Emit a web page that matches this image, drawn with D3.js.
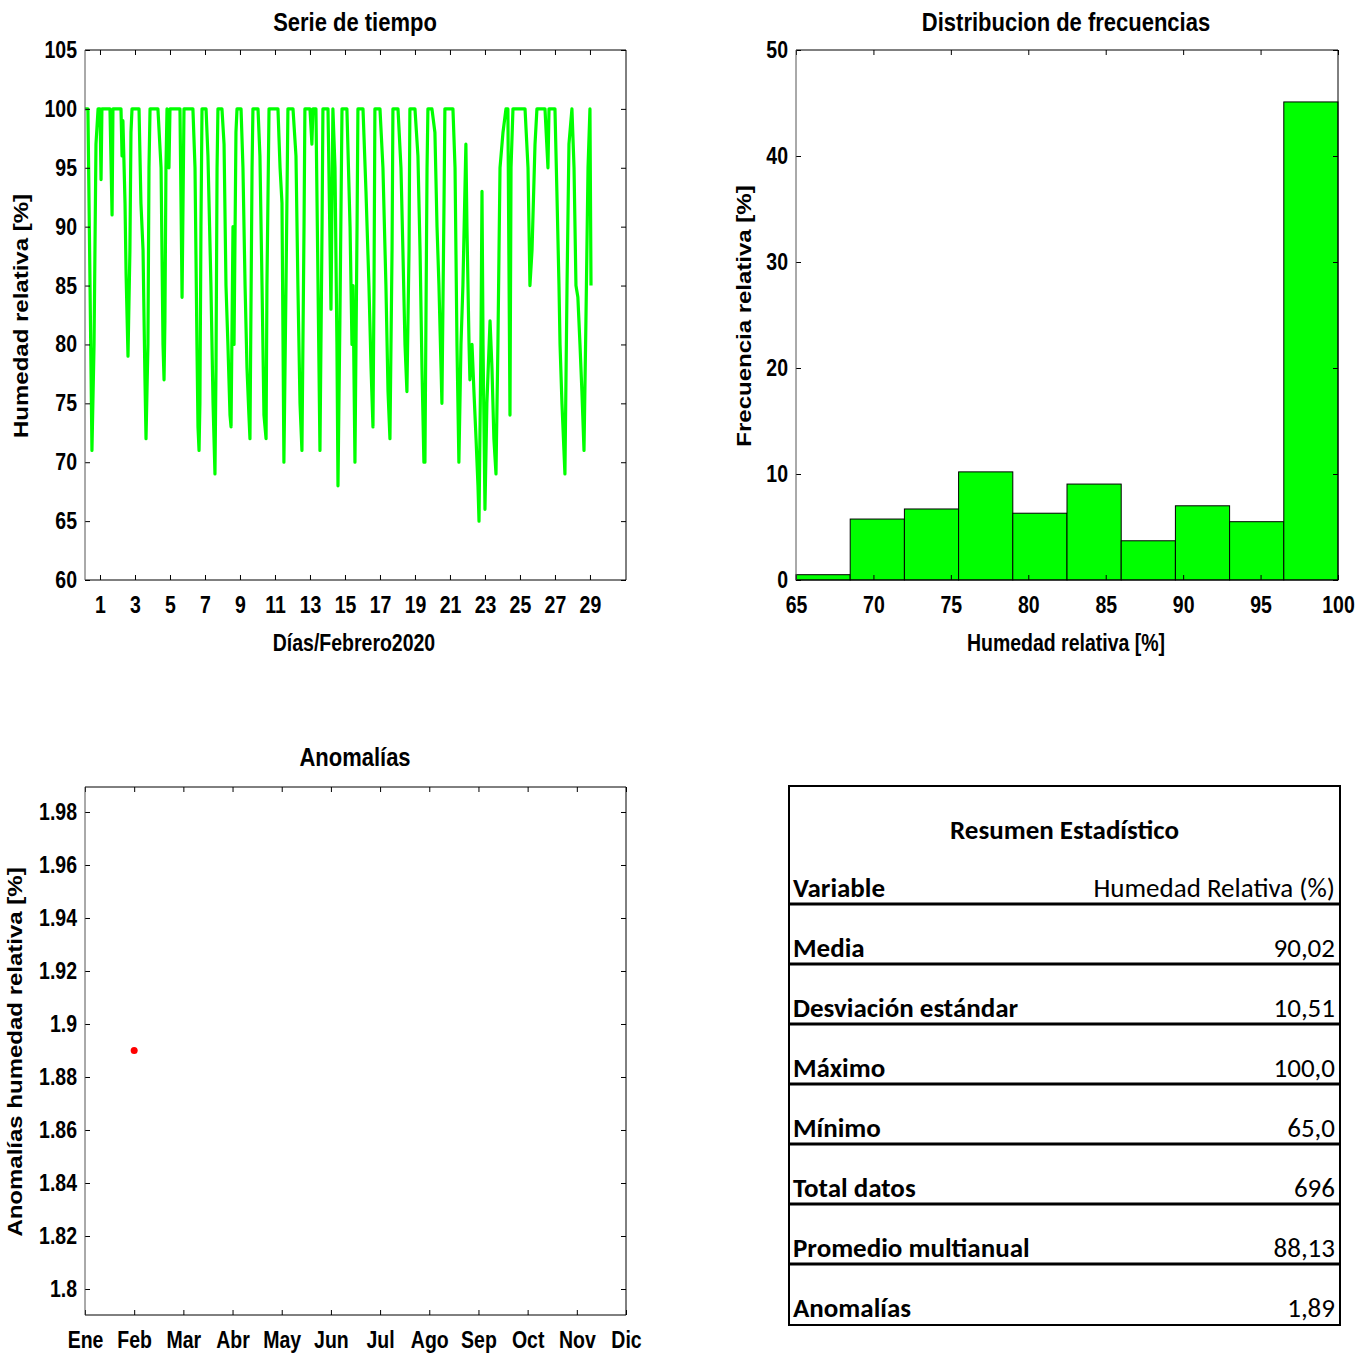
<!DOCTYPE html>
<html>
<head>
<meta charset="utf-8">
<script src="https://cdn.jsdelivr.net/npm/d3@7"></script>
<style>
  html, body { margin: 0; padding: 0; background: #fff; }
  svg { display: block; }
  .tick text { font-family: "Liberation Sans", Arial, sans-serif; font-weight: bold; font-size: 19.5px; fill: #000; }
  .lbl { font-family: "Liberation Sans", Arial, sans-serif; font-weight: bold; }
  .tbl { font-family: Carlito, Lato, sans-serif; font-size: 27px; }
</style>
</head>
<body>
<svg id="chart" width="1370" height="1355"></svg>
<script>
// ── datos ──────────────────────────────────────────────────────────────────────
// serie horaria (vértices): [día de febrero, humedad %]
const humSeries = [
  [0.14,100],[0.31,100],[0.43,85],[0.54,71],[0.66,80],[0.77,97],[0.89,100],[1.00,100],
  [1.06,94],[1.11,100],[1.57,100],[1.69,91],[1.74,100],[2.20,100],[2.26,96],[2.31,99],
  [2.43,92],[2.49,86],[2.60,79],[2.71,88],[2.77,98],[2.83,100],[3.23,100],[3.34,92],
  [3.46,88],[3.57,77],[3.63,72],[3.74,80],[3.80,95],[3.86,100],[4.31,100],[4.49,95],
  [4.60,80],[4.66,77],[4.71,82],[4.77,95],[4.83,100],[4.94,95],[5.00,100],[5.57,100],
  [5.69,84],[5.80,100],[6.31,100],[6.43,95],[6.54,80],[6.60,73],[6.66,71],[6.71,75],
  [6.77,90],[6.83,100],[7.06,100],[7.17,96],[7.34,85],[7.46,75],[7.57,69],[7.63,78],
  [7.69,95],[7.74,100],[7.97,100],[8.09,97],[8.20,85],[8.31,80],[8.43,74],[8.49,73],
  [8.60,90],[8.66,80],[8.77,98],[8.83,100],[9.06,100],[9.17,95],[9.29,85],[9.40,78],
  [9.51,74],[9.57,72],[9.69,95],[9.74,100],[10.03,100],[10.14,96],[10.26,85],[10.37,74],
  [10.49,72],[10.54,85],[10.66,100],[11.17,100],[11.29,95],[11.40,92],[11.46,80],
  [11.51,70],[11.63,85],[11.74,100],[12.03,100],[12.20,96],[12.31,85],[12.43,75],
  [12.54,71],[12.66,90],[12.71,100],[13.00,100],[13.11,97],[13.17,100],[13.34,100],
  [13.46,85],[13.57,71],[13.69,90],[13.74,100],[14.03,100],[14.20,83],[14.31,100],
  [14.43,95],[14.54,80],[14.60,68],[14.71,82],[14.83,100],[15.11,100],[15.29,90],
  [15.40,80],[15.46,85],[15.57,70],[15.69,90],[15.74,100],[16.03,100],[16.20,93],
  [16.37,85],[16.49,78],[16.60,73],[16.66,85],[16.71,100],[17.00,100],[17.17,95],
  [17.34,85],[17.46,76],[17.57,72],[17.69,88],[17.74,100],[18.03,100],[18.20,95],
  [18.31,88],[18.43,80],[18.54,76],[18.66,88],[18.71,100],[19.00,100],[19.17,96],
  [19.29,88],[19.40,78],[19.51,70],[19.57,70],[19.69,95],[19.74,100],[19.97,100],
  [20.14,98],[20.26,90],[20.37,85],[20.49,78],[20.54,75],[20.66,92],[20.71,100],
  [21.17,100],[21.29,95],[21.40,80],[21.51,70],[21.63,80],[21.74,85],[21.91,97],
  [21.97,90],[22.09,80],[22.14,77],[22.26,80],[22.37,76],[22.49,72],[22.60,68],
  [22.66,65],[22.77,80],[22.83,93],[22.89,80],[23.00,66],[23.11,75],[23.29,82],
  [23.40,78],[23.51,72],[23.63,69],[23.74,80],[23.86,95],[24.03,98],[24.20,100],
  [24.31,100],[24.43,74],[24.49,95],[24.60,100],[25.29,100],[25.46,95],[25.57,85],
  [25.69,88],[25.86,97],[25.97,100],[26.43,100],[26.60,95],[26.66,100],[27.00,100],
  [27.11,93],[27.23,85],[27.29,80],[27.40,75],[27.57,69],[27.69,85],[27.80,97],
  [27.97,100],[28.09,95],[28.20,85],[28.31,84],[28.43,80],[28.54,76],[28.66,71],
  [28.77,82],[28.89,95],[29.00,100],[29.06,85]
];
const dayTicks = [1, 3, 5, 7, 9, 11, 13, 15, 17, 19, 21, 23, 25, 27, 29];
const humTicks = [60, 65, 70, 75, 80, 85, 90, 95, 100, 105];

// histograma: bordes de clase y frecuencia relativa (%)
const binEdges = [65, 68.5, 72, 75.5, 79, 82.5, 86, 89.5, 93, 96.5, 100];
const binFreq  = [0.5, 5.75, 6.7, 10.2, 6.3, 9.05, 3.7, 7.0, 5.5, 45.1];
const histXTicks = [65, 70, 75, 80, 85, 90, 95, 100];
const histYTicks = [0, 10, 20, 30, 40, 50];

// anomalías mensuales
const months = ['Ene','Feb','Mar','Abr','May','Jun','Jul','Ago','Sep','Oct','Nov','Dic'];
const anomalies = [{ month: 2, value: 1.89 }];
const anomTicks = [1.8, 1.82, 1.84, 1.86, 1.88, 1.9, 1.92, 1.94, 1.96, 1.98];

// tabla resumen
const statLabels = ['Media', 'Desviación estándar', 'Máximo', 'Mínimo', 'Total datos', 'Promedio multianual', 'Anomalías'];
const statValues = ['90,02', '10,51', '100,0', '65,0', '696', '88,13', '1,89'];

// ── utilidades ────────────────────────────────────────────────────────────────
const svg = d3.select('#chart');
const TICK = 5;
const SY = 1.2;   // el original tiene el texto estirado en vertical

function frame(g, x0, y0, x1, y1) {
  g.append('line').attr('x1', x0).attr('x2', x1).attr('y1', y0).attr('y2', y0).attr('stroke', '#000');
  g.append('line').attr('x1', x1).attr('x2', x1).attr('y1', y0).attr('y2', y1).attr('stroke', '#000');
  g.append('line').attr('x1', x0).attr('x2', x1).attr('y1', y1).attr('y2', y1).attr('stroke', '#000');
  g.append('line').attr('x1', x0).attr('x2', x0).attr('y1', y0).attr('y2', y1).attr('stroke', '#555');
}

function axes(g, x, y, xTicks, yTicks, xFmt, yFmt) {
  const [x0, x1] = x.range();
  const [y1, y0] = y.range();
  g.append('g').attr('transform', `translate(0,${y1})`)
    .call(d3.axisBottom(x).tickValues(xTicks).tickFormat(xFmt).tickSizeInner(-TICK).tickSizeOuter(0).tickPadding(14))
    .call(a => a.select('.domain').remove());
  g.append('g').attr('transform', `translate(0,${y0})`)
    .call(d3.axisTop(x).tickValues(xTicks).tickFormat('').tickSizeInner(-TICK).tickSizeOuter(0))
    .call(a => a.select('.domain').remove());
  g.append('g').attr('transform', `translate(${x0},0)`)
    .call(d3.axisLeft(y).tickValues(yTicks).tickFormat(yFmt).tickSizeInner(-TICK).tickSizeOuter(0).tickPadding(8))
    .call(a => a.select('.domain').remove());
  g.append('g').attr('transform', `translate(${x1},0)`)
    .call(d3.axisRight(y).tickValues(yTicks).tickFormat('').tickSizeInner(-TICK).tickSizeOuter(0))
    .call(a => a.select('.domain').remove());
  g.selectAll('.tick line').attr('stroke', '#000');
  g.selectAll('.tick text').attr('transform', `scale(1,${SY})`);
  frame(g, x0, y0, x1, y1);
}

function label(g, x, y, size, txt) {
  g.append('text').attr('class', 'lbl')
    .attr('transform', `translate(${x},${y}) scale(1,${SY})`)
    .attr('text-anchor', 'middle').attr('font-size', size).text(txt);
}

function ylabel(g, x, y, txt) {
  g.append('text').attr('class', 'lbl')
    .attr('transform', `translate(${x},${y}) rotate(-90) scale(${SY},1)`)
    .attr('text-anchor', 'middle').attr('font-size', 20).text(txt);
}

// ── Serie de tiempo ───────────────────────────────────────────────────────────
{
  const g = svg.append('g');
  const x = d3.scaleLinear().domain([0.143, 31.06]).range([85, 626]);
  const y = d3.scaleLinear().domain([60, 105]).range([580, 50]);
  g.append('path').datum(humSeries)
    .attr('d', d3.line().x(d => x(d[0])).y(d => y(d[1])))
    .attr('fill', 'none').attr('stroke', '#00ff00').attr('stroke-width', 3.2)
    .attr('stroke-linejoin', 'round');
  axes(g, x, y, dayTicks, humTicks, d => d, d => d);
  label(g, 355, 31, 22, 'Serie de tiempo');
  label(g, 354, 651, 19.5, 'Días/Febrero2020');
  ylabel(g, 28, 316, 'Humedad relativa [%]');
}

// ── Distribución de frecuencias ───────────────────────────────────────────────
{
  const g = svg.append('g');
  const x = d3.scaleLinear().domain([65, 100]).range([796, 1338]);
  const y = d3.scaleLinear().domain([0, 50]).range([580, 50]);
  g.selectAll('rect.bar').data(binFreq).join('rect').attr('class', 'bar')
    .attr('x', (d, i) => x(binEdges[i]))
    .attr('width', (d, i) => x(binEdges[i + 1]) - x(binEdges[i]))
    .attr('y', d => y(d))
    .attr('height', d => y(0) - y(d))
    .attr('fill', '#00ff00').attr('stroke', '#000').attr('stroke-width', 1);
  axes(g, x, y, histXTicks, histYTicks, d => d, d => d);
  label(g, 1066, 31, 22, 'Distribucion de frecuencias');
  label(g, 1066, 651, 19.5, 'Humedad relativa [%]');
  ylabel(g, 751, 316, 'Frecuencia relativa [%]');
}

// ── Anomalías ─────────────────────────────────────────────────────────────────
{
  const g = svg.append('g');
  const x = d3.scaleLinear().domain([1, 12]).range([85, 626]);
  const y = d3.scaleLinear().domain([1.79019, 1.98943]).range([1315, 787]);
  axes(g, x, y, d3.range(1, 13), anomTicks, d => months[d - 1], d => String(+d.toFixed(2)));
  g.selectAll('circle.pt').data(anomalies).join('circle').attr('class', 'pt')
    .attr('cx', d => x(d.month)).attr('cy', d => y(d.value)).attr('r', 3.5)
    .attr('fill', '#ff0000');
  label(g, 355, 766, 22, 'Anomalías');
  ylabel(g, 22, 1052, 'Anomalías humedad relativa [%]');
}

// ── Resumen estadístico ───────────────────────────────────────────────────────
{
  const g = svg.append('g');
  const L = 789, R = 1340, T = 786, B = 1325;
  g.append('rect').attr('x', L).attr('y', T).attr('width', R - L).attr('height', B - T)
    .attr('fill', 'none').attr('stroke', '#000').attr('stroke-width', 2);
  g.append('text').attr('class', 'tbl').attr('font-weight', 'bold')
    .attr('x', (L + R) / 2).attr('y', 839).attr('text-anchor', 'middle').text('Resumen Estadístico');
  g.append('text').attr('class', 'tbl').attr('font-weight', 'bold')
    .attr('x', L + 4).attr('y', 897).text('Variable');
  g.append('text').attr('class', 'tbl')
    .attr('x', R - 5).attr('y', 897).attr('text-anchor', 'end').text('Humedad Relativa (%)');

  const row = d3.scaleLinear().domain([0, 1]).range([904, 964]);
  g.selectAll('line.sep').data(statLabels).join('line').attr('class', 'sep')
    .attr('x1', L).attr('x2', R)
    .attr('y1', (d, i) => row(i)).attr('y2', (d, i) => row(i))
    .attr('stroke', '#000').attr('stroke-width', 3);
  g.selectAll('text.lab').data(statLabels).join('text').attr('class', 'tbl lab')
    .attr('font-weight', 'bold')
    .attr('x', L + 4).attr('y', (d, i) => row(i) + 53).text(d => d);
  g.selectAll('text.val').data(statValues).join('text').attr('class', 'tbl val')
    .attr('x', R - 5).attr('y', (d, i) => row(i) + 53).attr('text-anchor', 'end').text(d => d);
}
</script>
</body>
</html>
